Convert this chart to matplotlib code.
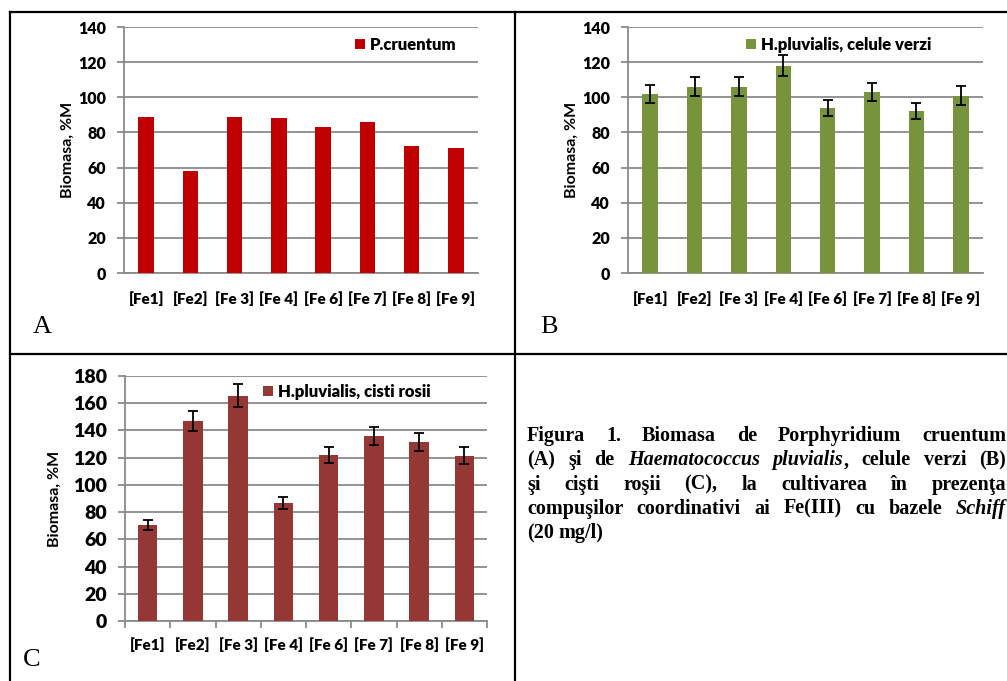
import numpy as np
import matplotlib
matplotlib.use('Agg')
import matplotlib.pyplot as plt
from matplotlib.lines import Line2D
from matplotlib.patches import Patch

plt.rcParams['font.family'] = ['Lato', 'DejaVu Sans']
plt.rcParams['font.weight'] = 'heavy'

labels = ['[Fe1]', '[Fe2]', '[Fe 3]', '[Fe 4]', '[Fe 6]', '[Fe 7]', '[Fe 8]', '[Fe 9]']
pcruentum = [89, 58, 89, 88, 83, 86, 72, 71]
verzi = [102, 106, 106, 118, 94, 103, 92, 101]
verzi_err = [5, 5.4, 5.4, 6, 4.7, 5.2, 4.6, 5.2]
rosii = [70.6, 147, 165.5, 86.8, 122, 136, 131.4, 121.4]
rosii_err = [3.7, 7.5, 8.5, 4.5, 6.2, 6.8, 6.6, 6.1]

W, H = 1007, 681
GRID = '#8a8a8a'

fig = plt.figure(figsize=(W / 100, H / 100), dpi=100)


def px_axes(l, t, r, b):
    return fig.add_axes([l / W, 1 - b / H, (r - l) / W, (b - t) / H])


def panel(ax, vals, err, color, bw, ymax, leg_text, leg_xy, yfs, xfs, ylab_x, boundary_ticks=False):
    x = np.arange(len(vals))
    ax.bar(x, vals, width=bw, color=color, edgecolor='none', zorder=3)
    if err is not None:
        ax.errorbar(x, vals, yerr=err, fmt='none', ecolor='black', elinewidth=1.3,
                    capsize=3.8, capthick=1.3, zorder=4)
    ax.set_xlim(-0.5, len(vals) - 0.5)
    ax.set_ylim(0, ymax)
    ax.set_yticks(np.arange(0, ymax + 1, 20))
    ax.yaxis.grid(True, color=GRID, lw=1.3, zorder=0)
    ax.set_axisbelow(True)
    for s in ['top', 'right']:
        ax.spines[s].set_visible(False)
    for s in ['left', 'bottom']:
        ax.spines[s].set_color(GRID)
        ax.spines[s].set_linewidth(1.3)
    ax.tick_params(axis='y', length=5, width=1.3, color=GRID, pad=8, labelsize=yfs)
    ax.set_xticks(x)
    ax.set_xticklabels(labels, fontsize=xfs)
    if boundary_ticks:
        ax.set_xticks(np.arange(-0.5, len(vals)), minor=True)
        ax.tick_params(axis='x', which='minor', length=5, width=1.3, color=GRID)
        ax.tick_params(axis='x', which='major', length=0, pad=12)
    else:
        ax.tick_params(axis='x', length=0, pad=13)
    ax.set_ylabel('Biomasa, %M', fontsize=11.5, fontweight='bold')
    ax.yaxis.set_label_coords(ylab_x, 0.5)
    h = Patch(facecolor=color, edgecolor='none')
    ax.legend([h], [leg_text], loc='center left', bbox_to_anchor=leg_xy, frameon=False,
              borderpad=0, borderaxespad=0, handlelength=0.6, handleheight=0.6,
              handletextpad=0.3, prop={'size': 12, 'weight': 'heavy'})


axA = px_axes(124, 27, 478, 273)
panel(axA, pcruentum, None, '#C00000', 0.35, 140, 'P.cruentum', (0.653, 0.927), 11.5, 11, -0.138)

axB = px_axes(628, 27, 983, 273)
panel(axB, verzi, verzi_err, '#77933C', 0.35, 140, 'H.pluvialis, celule verzi', (0.332, 0.927),
      11.5, 11, -0.138)

axC = px_axes(125, 376, 487, 621)
panel(axC, rosii, rosii_err, '#953735', 0.43, 180, 'H.pluvialis, cisti rosii', (0.381, 0.935),
      14, 11, -0.174, boundary_ticks=True)


# table frame
def hline(y, x0, x1):
    fig.add_artist(Line2D([x0 / W, x1 / W], [1 - y / H, 1 - y / H], color='black', lw=1.6,
                          transform=fig.transFigure))


def vline(x, y0, y1):
    fig.add_artist(Line2D([x / W, x / W], [1 - y0 / H, 1 - y1 / H], color='black', lw=1.6,
                          transform=fig.transFigure))


hline(12, 10, W)
hline(354, 10, W)
vline(10, 12, H)
vline(515, 12, H)

# panel letters
serif = ['Liberation Serif', 'DejaVu Serif']
for letter, px, py in [('A', 33, 333), ('B', 540, 333), ('C', 23, 666)]:
    fig.text(px / W, 1 - py / H, letter, family=serif, weight='normal', fontsize=19, va='baseline')

# caption, justified
caption = [
    [[('Figura', 0)], [('1.', 0)], [('Biomasa', 0)], [('de', 0)], [('Porphyridium', 0)], [('cruentum', 0)]],
    [[('(A)', 0)], [('şi', 0)], [('de', 0)], [('Haematococcus', 1)], [('pluvialis', 1), (',', 0)],
     [('celule', 0)], [('verzi', 0)], [('(B)', 0)]],
    [[('şi', 0)], [('cişti', 0)], [('roşii', 0)], [('(C),', 0)], [('la', 0)], [('cultivarea', 0)],
     [('în', 0)], [('prezenţa', 0)]],
    [[('compuşilor', 0)], [('coordinativi', 0)], [('ai', 0)], [('Fe(III)', 0)], [('cu', 0)],
     [('bazele', 0)], [('Schiff', 1)]],
    [[('(20', 0)], [('mg/l)', 0)]],
]
x0, x1 = 527, 1006
base = 441
step = 24.3
r = fig.canvas.get_renderer()
for i, line in enumerate(caption):
    y = 1 - (base + i * step) / H
    arts = []
    widths = []
    for word in line:
        segs = []
        w = 0
        for txt, it in word:
            t = fig.text(0, y, txt, family=serif, weight='bold', style='italic' if it else 'normal',
                         fontsize=14.5, va='baseline')
            sw = t.get_window_extent(r).width
            segs.append((t, sw))
            w += sw
        arts.append(segs)
        widths.append(w)
    if i < len(caption) - 1:
        gap = (x1 - x0 - sum(widths)) / (len(line) - 1)
    else:
        gap = 5
    cx = x0
    for segs, w in zip(arts, widths):
        sx = cx
        for t, sw in segs:
            t.set_x(sx / W)
            sx += sw
        cx += w + gap

fig.savefig('out.png', dpi=100)
